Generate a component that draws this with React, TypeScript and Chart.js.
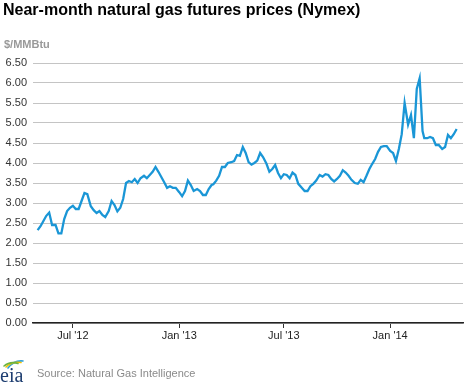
import { useEffect, useRef } from "react";
import { Chart, registerables } from "chart.js";

Chart.register(...registerables);

// ---- Data ----
const months = [
  "2012-05", "2012-06", "2012-07", "2012-08", "2012-09", "2012-10",
  "2012-11", "2012-12", "2013-01", "2013-02", "2013-03", "2013-04",
  "2013-05", "2013-06", "2013-07", "2013-08", "2013-09", "2013-10",
  "2013-11", "2013-12", "2014-01", "2014-02", "2014-03", "2014-04",
];
const sampleDays = [1, 6, 11, 16, 21, 26];
const pricesByMonth = [
  [2.32, 2.42, 2.55, 2.68, 2.76, 2.45],
  [2.45, 2.24, 2.24, 2.6, 2.8, 2.88],
  [2.93, 2.85, 2.85, 3.05, 3.25, 3.22],
  [2.92, 2.82, 2.75, 2.8, 2.7, 2.65],
  [2.8, 3.05, 2.95, 2.79, 2.88, 3.1],
  [3.5, 3.55, 3.52, 3.6, 3.5, 3.62],
  [3.68, 3.62, 3.7, 3.78, 3.9, 3.78],
  [3.65, 3.52, 3.38, 3.42, 3.38, 3.38],
  [3.27, 3.17, 3.3, 3.56, 3.45, 3.3],
  [3.35, 3.3, 3.2, 3.2, 3.35, 3.45],
  [3.47, 3.56, 3.68, 3.9, 3.9, 4.0],
  [4.02, 4.05, 4.2, 4.18, 4.4, 4.25],
  [4.02, 3.96, 4.0, 4.06, 4.25, 4.15],
  [3.98, 3.78, 3.85, 3.95, 3.75, 3.62],
  [3.72, 3.7, 3.62, 3.76, 3.7, 3.48],
  [3.38, 3.3, 3.3, 3.42, 3.48, 3.56],
  [3.7, 3.66, 3.72, 3.7, 3.6, 3.54],
  [3.6, 3.68, 3.82, 3.76, 3.68, 3.58],
  [3.5, 3.48, 3.58, 3.52, 3.68, 3.85],
  [3.98, 4.1, 4.28, 4.4, 4.42, 4.42],
  [4.3, 4.25, 4.05, 4.35, 4.72, 5.5],
  [4.96, 5.2, 4.62, 5.85, 6.12, 4.8],
  [4.62, 4.62, 4.65, 4.62, 4.45, 4.45],
  [4.35, 4.4, 4.7, 4.62, 4.72, 4.85],
];
const tickDates = ["2012-07-01", "2013-01-01", "2013-07-01", "2014-01-01"];
const tickLabels = ["Jul '12", "Jan '13", "Jul '13", "Jan '14"];
const axisStart = "2012-04-23";
const axisEnd = "2014-05-07";
const yMin = 0;
const yMax = 6.5;
const yStep = 0.5;

const titleText = "Near-month natural gas futures prices (Nymex)";
const unitText = "$/MMBtu";
const sourceText = "Source: Natural Gas Intelligence";
const logoText = "eia";

const dayNum = (d: string) => Date.parse(d + "T00:00:00Z") / 86400000;
const pad2 = (n: number) => (n < 10 ? "0" + n : "" + n);

const FONT = "'Liberation Sans', Arial, sans-serif";

const textPlugin = {
  id: "eiaText",
  afterDraw(chart: any) {
    const ctx = chart.ctx as CanvasRenderingContext2D;
    ctx.save();
    ctx.textAlign = "left";
    ctx.textBaseline = "alphabetic";
    // title
    ctx.fillStyle = "#000000";
    ctx.font = `bold 16px ${FONT}`;
    ctx.fillText(titleText, 3, 15);
    // unit
    ctx.fillStyle = "#999999";
    ctx.font = `bold 11px ${FONT}`;
    ctx.fillText(unitText, 4, 48);
    // source
    ctx.fillStyle = "#8a8a8a";
    ctx.font = `11px ${FONT}`;
    ctx.fillText(sourceText, 37, 377);
    // logo arcs
    ctx.lineCap = "round";
    ctx.lineWidth = 1.6;
    ctx.strokeStyle = "#2a9fd8";
    ctx.beginPath();
    ctx.moveTo(8, 368);
    ctx.quadraticCurveTo(14, 360, 23, 361);
    ctx.stroke();
    ctx.strokeStyle = "#f2c200";
    ctx.beginPath();
    ctx.moveTo(6, 367);
    ctx.quadraticCurveTo(12, 361, 21, 362.5);
    ctx.stroke();
    ctx.strokeStyle = "#6cb33f";
    ctx.beginPath();
    ctx.moveTo(4, 366);
    ctx.quadraticCurveTo(10, 361, 18, 363.5);
    ctx.stroke();
    // logo text
    ctx.fillStyle = "#1d3d70";
    ctx.font = `20px 'Liberation Serif', 'DejaVu Serif', serif`;
    ctx.fillText(logoText, 0, 382);
    ctx.restore();
  },
};

export default function App() {
  const canvasRef = useRef<HTMLCanvasElement | null>(null);

  useEffect(() => {
    if (!canvasRef.current) return;
    const points: { x: number; y: number }[] = [];
    months.forEach((m, i) => {
      sampleDays.forEach((d, j) => {
        points.push({ x: dayNum(`${m}-${pad2(d)}`), y: pricesByMonth[i][j] });
      });
    });

    const chart = new Chart(canvasRef.current, {
      type: "line",
      data: {
        datasets: [
          {
            data: points,
            borderColor: "#1a96d6",
            borderWidth: 2.3,
            pointRadius: 0,
            tension: 0,
            fill: false,
          },
        ],
      },
      options: {
        animation: false,
        responsive: false,
        maintainAspectRatio: false,
        parsing: false as any,
        layout: { padding: { left: 0, right: 7, top: 63, bottom: 38 } },
        plugins: {
          legend: { display: false },
          tooltip: { enabled: false },
          title: { display: false },
        },
        scales: {
          x: {
            type: "linear",
            min: dayNum(axisStart),
            max: dayNum(axisEnd),
            afterBuildTicks: (scale: any) => {
              scale.ticks = tickDates.map((d) => ({ value: dayNum(d) }));
            },
            afterFit: (scale: any) => {
              scale.height = 22;
            },
            ticks: {
              autoSkip: false,
              maxRotation: 0,
              padding: 1,
              color: "#222222",
              font: { family: FONT, size: 11 },
              callback: (_v: any, i: number) => tickLabels[i],
            },
            grid: {
              display: true,
              drawOnChartArea: false,
              drawTicks: true,
              tickLength: 5,
              color: "#333333",
              lineWidth: 1,
            },
            border: { display: true, color: "#222222", width: 1.5 },
          },
          y: {
            type: "linear",
            min: yMin,
            max: yMax,
            afterFit: (scale: any) => {
              scale.width = 33;
            },
            ticks: {
              stepSize: yStep,
              padding: 6,
              color: "#333333",
              font: { family: FONT, size: 11 },
              callback: (v: any) => Number(v).toFixed(2),
            },
            grid: {
              color: "#c4c4c4",
              lineWidth: 1,
              drawTicks: false,
            },
            border: { display: false },
          },
        },
      },
      plugins: [textPlugin],
    });
    return () => chart.destroy();
  }, []);

  return (
    <div style={{ position: "fixed", left: 0, top: 0, width: 470, height: 383, background: "#fff" }}>
      <canvas ref={canvasRef} width={470} height={383} style={{ width: 470, height: 383 }} />
    </div>
  );
}
